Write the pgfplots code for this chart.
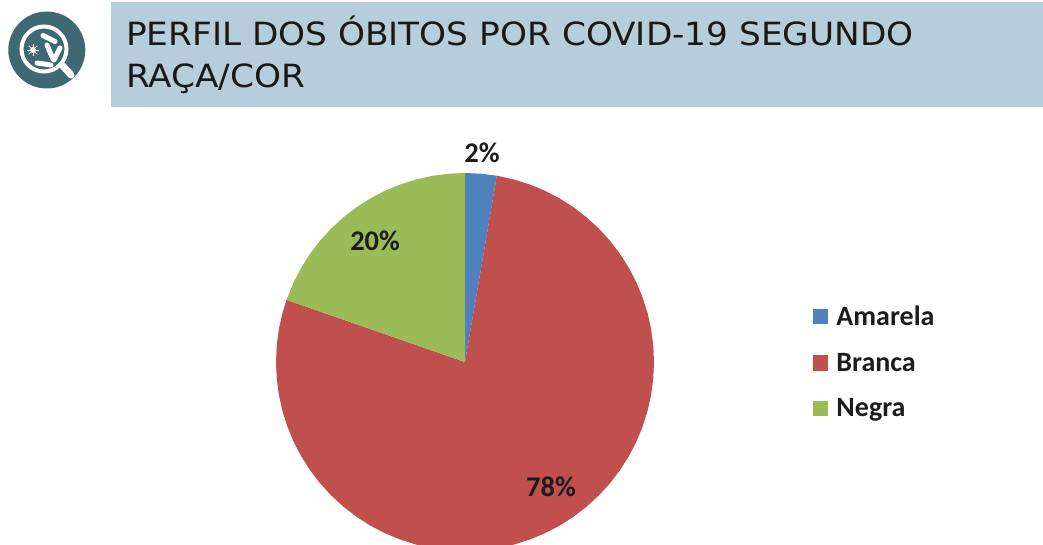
\documentclass[border=0pt]{standalone}
\usepackage{fontspec}
\setmainfont{DejaVu Sans}
\newfontfamily\calb{Carlito Bold}
\newfontfamily\ttl{DejaVu Sans}[FakeStretch=1.072]
\usepackage{pgfplots}
\pgfplotsset{compat=1.18}
\usepgfplotslibrary{polar}
\definecolor{band}{HTML}{B8CDDA}
\definecolor{teal}{HTML}{3F6972}
\definecolor{cblue}{HTML}{4F81BD}
\definecolor{cred}{HTML}{C0504D}
\definecolor{cgreen}{HTML}{9BBB59}
\definecolor{lab}{HTML}{1C1C1C}
\begin{document}
\begin{tikzpicture}[x=1pt,y=-1pt]
\path[use as bounding box] (0,0) rectangle (1043,544);
\clip (0,0) rectangle (1043,544);
\fill[band] (111,2) rectangle (1043,107);
\node[anchor=base west,inner sep=0pt,font=\ttl\fontsize{32}{32}\selectfont,text=black!90] at (126,45.7) {PERFIL DOS ÓBITOS POR COVID-19 SEGUNDO};
\node[anchor=base west,inner sep=0pt,font=\ttl\fontsize{32}{32}\selectfont,text=black!90] at (126,87.5) {RAÇA/COR};
% logo
\fill[teal] (46.8,50) circle (38.5);
\draw[white,line width=4] (44,49) circle (22.5);
\draw[white,line width=7,line cap=round] (63,66) -- (71,75);
\draw[white,line width=5,line cap=round] (43,35.5) -- (55,41.5);
\draw[white,line width=5,line cap=round] (47,45) -- (53,59);
\draw[white,line width=5,line cap=round] (60,48) -- (54,60);
\draw[white,line width=5,line cap=round] (37,63) -- (51,65);
\foreach \a in {0,45,...,315} \draw[white,line width=1] (33,50) -- ++(\a:6);
\fill[white] (33,50) circle (3);
\begin{polaraxis}[
  at={(465pt,-362pt)}, anchor=center,
  scale only axis, width=378pt, height=378pt,
  hide axis, clip=false,
  xmin=0, xmax=360, ymin=0, ymax=1,
  legend style={draw=none, fill=none, at={(1.42,0.5)}, anchor=west,
    font=\calb\fontsize{28}{29}\selectfont, text=lab,
    row sep=26pt, inner sep=0pt, nodes={inner sep=0pt}},
  legend cell align=left,
  legend image code/.code={\fill[#1] (0pt,-8pt) rectangle (15.5pt,7.5pt);},
  every axis plot/.append style={draw=none, no markers},
]
\addplot[fill=cblue] coordinates {(0,0) (90,1) (85,1) (80.3,1)} --cycle;
\addlegendentry{\hspace{8pt}Amarela}
\addplot[fill=cred] coordinates {(0,0) (80.3,1) (75,1) (70,1) (65,1) (60,1) (55,1) (50,1) (45,1) (40,1) (35,1) (30,1) (25,1) (20,1) (15,1) (10,1) (5,1) (0,1) (355,1) (350,1) (345,1) (340,1) (335,1) (330,1) (325,1) (320,1) (315,1) (310,1) (305,1) (300,1) (295,1) (290,1) (285,1) (280,1) (275,1) (270,1) (265,1) (260,1) (255,1) (250,1) (245,1) (240,1) (235,1) (230,1) (225,1) (220,1) (215,1) (210,1) (205,1) (200,1) (195,1) (190,1) (185,1) (180,1) (175,1) (170,1) (165,1) (160.8,1)} --cycle;
\addlegendentry{\hspace{8pt}Branca}
\addplot[fill=cgreen] coordinates {(0,0) (160.8,1) (155,1) (150,1) (145,1) (140,1) (135,1) (130,1) (125,1) (120,1) (115,1) (110,1) (105,1) (100,1) (95,1) (90,1)} --cycle;
\addlegendentry{\hspace{8pt}Negra}
\node[font=\calb\fontsize{28.5}{28.5}\selectfont,text=lab] at (axis cs:85.35,1.11) {2\%};
\node[font=\calb\fontsize{28.5}{28.5}\selectfont,text=lab] at (axis cs:126.6,0.798) {20\%};
\node[font=\calb\fontsize{28.5}{28.5}\selectfont,text=lab] at (axis cs:304.5,0.803) {78\%};
\end{polaraxis}
\end{tikzpicture}
\end{document}
